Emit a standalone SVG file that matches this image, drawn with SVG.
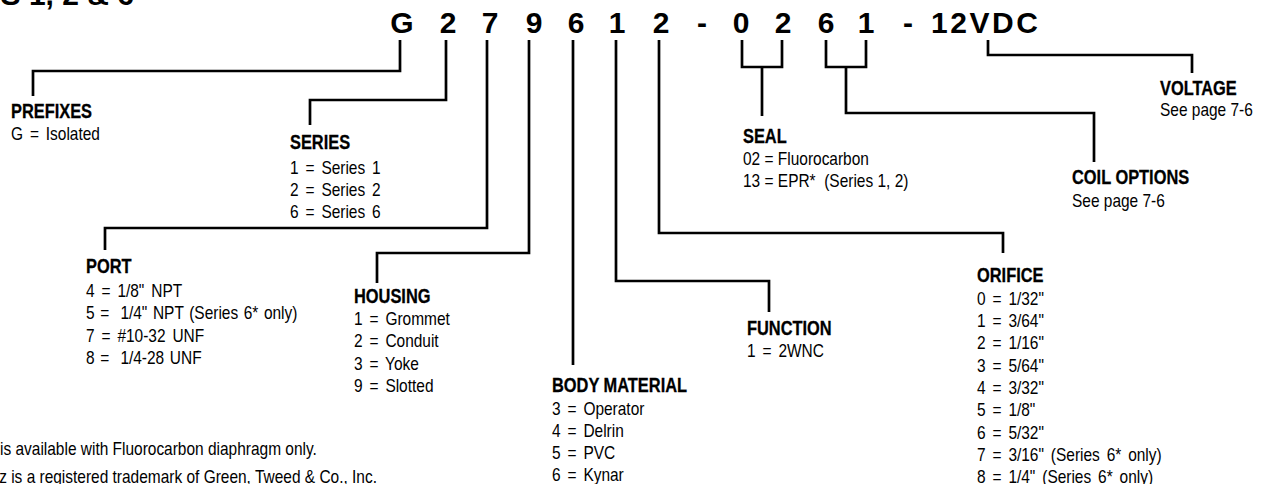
<svg xmlns="http://www.w3.org/2000/svg" width="1267" height="484" viewBox="0 0 1267 484">
<style>
.code{font-family:"Liberation Sans",Arial,sans-serif;font-weight:bold;font-size:30px;fill:#000}
.title{font-family:"Liberation Sans",Arial,sans-serif;font-weight:bold;font-size:30px;fill:#000}
.h{font-family:"Liberation Sans",Arial,sans-serif;font-weight:bold;font-size:20.5px;fill:#000;stroke:#000;stroke-width:0.3;transform:scale(0.8,1)}
.b{font-family:"Liberation Sans",Arial,sans-serif;font-size:18px;fill:#000;transform:scale(0.86,1)}
.ws{word-spacing:3px}
.ws2{word-spacing:1.5px}
.ln{fill:none;stroke:#000;stroke-width:2.7;stroke-linejoin:miter;stroke-linecap:butt}
</style>
<text class="title" x="134" y="5" text-anchor="end">SERIES 1, 2 &amp; 6</text>
<g id="code">
<text class="code" text-anchor="middle" y="33" x="402 448 490 534 576 617 661 702 741 783 826 866 908">G279612-0261-</text>
<text class="code" x="931" y="33" textLength="107" lengthAdjust="spacing">12VDC</text>
</g>
<g id="connectors" class="ln">
<polyline points="400,40 400,71 33,71 33,96"/>
<polyline points="446,40 446,100 310,100 310,125"/>
<polyline points="487,40 487,228 105,228 105,250"/>
<polyline points="529,40 529,253 377,253 377,283"/>
<polyline points="573,40 573,365"/>
<polyline points="616,40 616,281 769,281 769,312"/>
<polyline points="659,40 659,233 1003,233 1003,253"/>
<polyline points="742,40 742,67 782,67 782,40"/>
<polyline points="762,67 762,116"/>
<polyline points="826,40 826,67 866,67 866,40"/>
<polyline points="846,67 846,113 1094,113 1094,162"/>
<polyline points="988,40 988,55 1192,55 1192,73"/>
</g>
<g id="prefixes" transform="translate(11,118)">
<text class="h">PREFIXES</text>
<text class="b ws" y="22">G = Isolated</text>
</g>
<g id="series" transform="translate(290,149)">
<text class="h">SERIES</text>
<text class="b ws" y="25">1 = Series 1</text>
<text class="b ws" y="47">2 = Series 2</text>
<text class="b ws" y="69">6 = Series 6</text>
</g>
<g id="port" transform="translate(86,273)">
<text class="h">PORT</text>
<text class="b ws" y="24">4 = 1/8" NPT</text>
<text class="b ws2" y="46" xml:space="preserve">5 =  1/4" NPT (Series 6* only)</text>
<text class="b ws" y="69">7 = #10-32 UNF</text>
<text class="b ws2" y="91" xml:space="preserve">8 =  1/4-28 UNF</text>
</g>
<g id="housing" transform="translate(354,303)">
<text class="h">HOUSING</text>
<text class="b ws" y="22">1 = Grommet</text>
<text class="b ws" y="44">2 = Conduit</text>
<text class="b ws" y="67">3 = Yoke</text>
<text class="b ws" y="89">9 = Slotted</text>
</g>
<g id="body-material" transform="translate(552,392)">
<text class="h">BODY MATERIAL</text>
<text class="b ws" y="23">3 = Operator</text>
<text class="b ws" y="45">4 = Delrin</text>
<text class="b ws" y="67">5 = PVC</text>
<text class="b ws" y="89">6 = Kynar</text>
</g>
<g id="function" transform="translate(747,335)">
<text class="h">FUNCTION</text>
<text class="b ws" y="22">1 = 2WNC</text>
</g>
<g id="orifice" transform="translate(977,282)">
<text class="h">ORIFICE</text>
<text class="b ws" y="23">0 = 1/32"</text>
<text class="b ws" y="45">1 = 3/64"</text>
<text class="b ws" y="67">2 = 1/16"</text>
<text class="b ws" y="90">3 = 5/64"</text>
<text class="b ws" y="112">4 = 3/32"</text>
<text class="b ws" y="134">5 = 1/8"</text>
<text class="b ws" y="157">6 = 5/32"</text>
<text class="b ws" y="179">7 = 3/16" (Series 6* only)</text>
<text class="b ws" y="201">8 = 1/4" (Series 6* only)</text>
</g>
<g id="seal" transform="translate(743,143)">
<text class="h">SEAL</text>
<text class="b" y="22">02 = Fluorocarbon</text>
<text class="b" y="44" xml:space="preserve">13 = EPR*  (Series 1, 2)</text>
</g>
<g id="coil-options" transform="translate(1072,184)">
<text class="h">COIL OPTIONS</text>
<text class="b" y="23">See page 7-6</text>
</g>
<g id="voltage" transform="translate(1160,95)">
<text class="h">VOLTAGE</text>
<text class="b" y="21">See page 7-6</text>
</g>
<g id="footnotes">
<text class="b" x="0" y="455">is available with Fluorocarbon diaphragm only.</text>
<text class="b" x="-1" y="483">z is a registered trademark of Green, Tweed &amp; Co., Inc.</text>
</g>
</svg>
